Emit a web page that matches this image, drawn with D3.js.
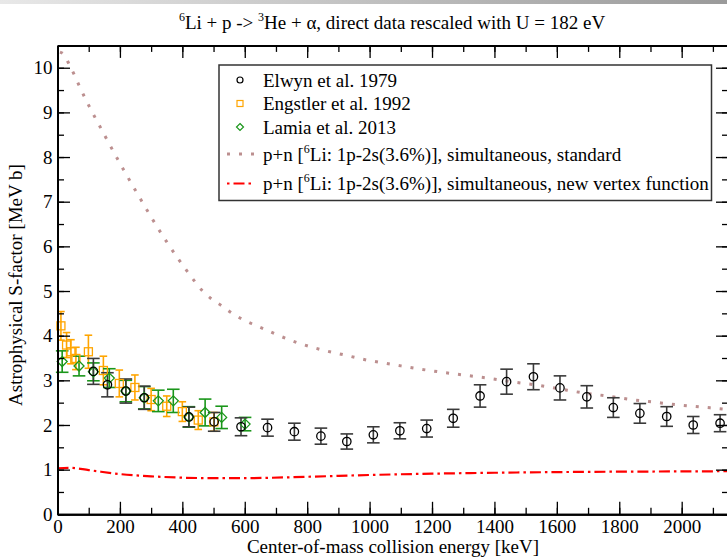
<!DOCTYPE html>
<html><head><meta charset="utf-8">
<script src="https://cdn.jsdelivr.net/npm/d3@7"></script>
<style>
body{margin:0;background:#fff;}
svg{display:block;font-family:"Liberation Serif","Times New Roman",serif;}
</style></head>
<body>
<svg id="c" width="727" height="558"></svg>
<script>
// ---------- data ----------
const xTicks = [0,200,400,600,800,1000,1200,1400,1600,1800,2000];
const yTicks = [0,1,2,3,4,5,6,7,8,9,10];

const elwynE = [115,160,219,278,421,502,588,673,759,844,927,1012,1097,1183,1268,1354,1439,1525,1610,1696,1781,1866,1952,2037,2123];
const elwynS = [3.20,2.90,2.76,2.61,2.18,2.07,1.96,1.94,1.85,1.75,1.63,1.78,1.87,1.92,2.15,2.65,2.97,3.08,2.83,2.63,2.39,2.26,2.19,2.00,2.04];
const elwynErr = [0.29,0.27,0.27,0.26,0.22,0.21,0.20,0.19,0.19,0.18,0.17,0.18,0.18,0.19,0.20,0.25,0.28,0.29,0.27,0.25,0.22,0.22,0.22,0.19,0.19];

const engE = [11,29,43,59,99,147,198,248,300,350,400,451,501];
const engS = [4.22,3.79,3.64,3.49,3.64,3.22,2.93,2.84,2.57,2.42,2.30,2.11,2.07];
const engErr = [0.32,0.28,0.27,0.25,0.37,0.32,0.30,0.28,0.25,0.23,0.22,0.21,0.21];

const lamiaE = [15,69,115,166,219,278,323,371,421,473,526,601];
const lamiaS = [3.42,3.32,3.19,3.05,2.76,2.61,2.54,2.54,2.18,2.28,2.17,2.02];
const lamiaErr = [0.24,0.22,0.20,0.21,0.24,0.25,0.24,0.26,0.23,0.30,0.25,0.15];

const stdE = [8,20,37,54,70,150,250,350,420,465,494,526,558,592,625,662,697,770,843,918,994,1071,1145,1223,1300,1377,1453,1530,1607,1683,1760,1837,1912,1989,2067,2142];
const stdS = [10.35,10.30,10.08,9.84,9.59,8.50,7.25,6.10,5.40,5.00,4.82,4.67,4.51,4.37,4.26,4.15,4.04,3.84,3.69,3.57,3.45,3.36,3.27,3.19,3.12,3.05,2.97,2.90,2.81,2.72,2.65,2.57,2.51,2.45,2.40,2.35];

const newE = [0,40,100,200,300,400,500,600,800,1000,1200,1400,1600,1800,2000,2150];
const newS = [1.03,1.04,0.99,0.90,0.85,0.82,0.81,0.81,0.84,0.88,0.91,0.93,0.945,0.955,0.96,0.965];

// ---------- layout ----------
const svg = d3.select("#c");
const L = 57.5, R = 728.5, T = 45.4, B = 514.3;
const x = d3.scaleLinear().domain([0,2150]).range([L,R]);
const y = d3.scaleLinear().domain([0,10.5]).range([B,T]);
const font = '"Liberation Serif","Times New Roman",serif';

// top gradient bar (screenshot artifact)
const defs = svg.append("defs");
const g0 = defs.append("linearGradient").attr("id","tb");
g0.append("stop").attr("offset","0").attr("stop-color","#e8e8e8");
g0.append("stop").attr("offset","1").attr("stop-color","#9a9a9a");
svg.append("rect").attr("x",0).attr("y",0).attr("width",727).attr("height",4).attr("fill","url(#tb)");

// ---------- curves ----------
const line = d3.line().x(d=>x(d[0])).y(d=>y(d[1])).curve(d3.curveMonotoneX);
svg.append("path").datum(stdE.map((e,i)=>[e,stdS[i]]))
  .attr("d",line).attr("fill","none").attr("stroke","#bc8f8f")
  .attr("stroke-width",3).attr("stroke-dasharray","3,9");
svg.append("path").datum(newE.map((e,i)=>[e,newS[i]]))
  .attr("d",line).attr("fill","none").attr("stroke","#ff0000")
  .attr("stroke-width",2.2).attr("stroke-dasharray","11,4,2.5,4");

// ---------- error bars + markers ----------
function errBars(E,S,Er,color,cap,w){
  const g = svg.append("g").attr("stroke",color).attr("stroke-width",w).attr("fill","none");
  E.forEach((e,i)=>{
    const cx=x(e), y1=y(S[i]+Er[i]), y2=y(S[i]-Er[i]);
    g.append("line").attr("x1",cx).attr("x2",cx).attr("y1",y1).attr("y2",y2);
    g.append("line").attr("x1",cx-cap).attr("x2",cx+cap).attr("y1",y1).attr("y2",y1);
    g.append("line").attr("x1",cx-cap).attr("x2",cx+cap).attr("y1",y2).attr("y2",y2);
  });
  return g;
}
errBars(engE,engS,engErr,"#ffa500",3.8,1.6);
errBars(lamiaE,lamiaS,lamiaErr,"#1a961a",6.3,1.6);
errBars(elwynE,elwynS,elwynErr,"#3a3a3a",6.3,1.6);

const sq = svg.append("g").attr("stroke","#ffa500").attr("stroke-width",1.3).attr("fill","none");
engE.forEach((e,i)=>sq.append("rect").attr("x",x(e)-4).attr("y",y(engS[i])-4).attr("width",8).attr("height",8));
const dm = svg.append("g").attr("stroke","#1a961a").attr("stroke-width",1.3).attr("fill","none");
lamiaE.forEach((e,i)=>{const cx=x(e),cy=y(lamiaS[i]);
  dm.append("path").attr("d",`M${cx},${cy-5}L${cx+5},${cy}L${cx},${cy+5}L${cx-5},${cy}Z`);});
const ci = svg.append("g").attr("stroke","#000").attr("stroke-width",1.3).attr("fill","none");
elwynE.forEach((e,i)=>ci.append("circle").attr("cx",x(e)).attr("cy",y(elwynS[i])).attr("r",4.2));

// ---------- axes ----------
function styleAxis(g){
  g.select(".domain").attr("stroke","#000").attr("stroke-width",2);
  g.selectAll(".tick line").attr("stroke","#000").attr("stroke-width",1.3);
  g.selectAll(".tick text").attr("font-family",font).attr("font-size",19).attr("fill","#000");
}
const xMinor = d3.range(0,2150,100);
const yMinor = d3.range(0,10.5,0.5);
// bottom
styleAxis(svg.append("g").attr("transform",`translate(0,${B})`)
  .call(d3.axisBottom(x).tickValues(xMinor).tickSizeInner(-6.5).tickSizeOuter(0).tickFormat("")));
styleAxis(svg.append("g").attr("transform",`translate(0,${B})`)
  .call(d3.axisBottom(x).tickValues(xTicks).tickSizeInner(-12.5).tickSizeOuter(0).tickPadding(5).tickFormat(d3.format("d"))));
// top
styleAxis(svg.append("g").attr("transform",`translate(0,${T})`)
  .call(d3.axisTop(x).tickValues(xMinor).tickSizeInner(-6.5).tickSizeOuter(0).tickFormat("")));
styleAxis(svg.append("g").attr("transform",`translate(0,${T})`)
  .call(d3.axisTop(x).tickValues(xTicks).tickSizeInner(-12.5).tickSizeOuter(0).tickFormat("")));
// left
styleAxis(svg.append("g").attr("transform",`translate(${L},0)`)
  .call(d3.axisLeft(y).tickValues(yMinor).tickSizeInner(-6.5).tickSizeOuter(0).tickFormat("")));
styleAxis(svg.append("g").attr("transform",`translate(${L},0)`)
  .call(d3.axisLeft(y).tickValues(yTicks).tickSizeInner(-12.5).tickSizeOuter(0).tickPadding(5).tickFormat(d3.format("d"))));
// right
styleAxis(svg.append("g").attr("transform",`translate(${R},0)`)
  .call(d3.axisRight(y).tickValues(yMinor).tickSizeInner(-6.5).tickSizeOuter(0).tickFormat("")));
styleAxis(svg.append("g").attr("transform",`translate(${R},0)`)
  .call(d3.axisRight(y).tickValues(yTicks).tickSizeInner(-12.5).tickSizeOuter(0).tickFormat("")));

// ---------- titles ----------
const title = svg.append("text").attr("x",392).attr("y",29).attr("text-anchor","middle")
  .attr("font-family",font).attr("font-size",19).attr("fill","#000");
title.append("tspan").attr("font-size",12).attr("dy",-8).text("6");
title.append("tspan").attr("dy",8).text("Li + p -> ");
title.append("tspan").attr("font-size",12).attr("dy",-8).text("3");
title.append("tspan").attr("dy",8).text("He + α, direct data rescaled with U = 182 eV");

svg.append("text").attr("x",393).attr("y",553).attr("text-anchor","middle")
  .attr("font-family",font).attr("font-size",19).attr("fill","#000")
  .text("Center-of-mass collision energy [keV]");
svg.append("text").attr("transform","translate(22,285) rotate(-90)").attr("text-anchor","middle")
  .attr("font-family",font).attr("font-size",19).attr("fill","#000")
  .text("Astrophysical S-factor [MeV b]");

// ---------- legend ----------
const lg = svg.append("g");
lg.append("rect").attr("x",219).attr("y",65).attr("width",492.5).attr("height",135.5)
  .attr("fill","#fff").attr("stroke","#333").attr("stroke-width",1.5);
const rows = [80,103.5,127,154,183.5];
const tx = 263;
function ltext(yy){return lg.append("text").attr("x",tx).attr("y",yy+6.5).attr("font-family",font).attr("font-size",19).attr("fill","#000");}
lg.append("circle").attr("cx",240).attr("cy",rows[0]).attr("r",3).attr("fill","none").attr("stroke","#000").attr("stroke-width",1.2);
ltext(rows[0]).text("Elwyn et al. 1979");
lg.append("rect").attr("x",237).attr("y",rows[1]-3).attr("width",6).attr("height",6).attr("fill","none").attr("stroke","#ffa500").attr("stroke-width",1.2);
ltext(rows[1]).text("Engstler et al. 1992");
lg.append("path").attr("d",`M240,${rows[2]-3.5}L243.5,${rows[2]}L240,${rows[2]+3.5}L236.5,${rows[2]}Z`).attr("fill","none").attr("stroke","#1a961a").attr("stroke-width",1.2);
ltext(rows[2]).text("Lamia et al. 2013");
lg.append("line").attr("x1",227).attr("x2",254).attr("y1",rows[3]).attr("y2",rows[3])
  .attr("stroke","#bc8f8f").attr("stroke-width",3).attr("stroke-dasharray","3,9");
let t4 = ltext(rows[3]);
t4.append("tspan").text("p+n [");
t4.append("tspan").attr("font-size",12).attr("dy",-8).text("6");
t4.append("tspan").attr("dy",8).text("Li: 1p-2s(3.6%)], simultaneous, standard");
lg.append("line").attr("x1",227).attr("x2",254).attr("y1",rows[4]).attr("y2",rows[4])
  .attr("stroke","#ff0000").attr("stroke-width",2.2).attr("stroke-dasharray","2.5,4,11,4");
let t5 = ltext(rows[4]);
t5.append("tspan").text("p+n [");
t5.append("tspan").attr("font-size",12).attr("dy",-8).text("6");
t5.append("tspan").attr("dy",8).text("Li: 1p-2s(3.6%)], simultaneous, new vertex function");
</script>
</body></html>
